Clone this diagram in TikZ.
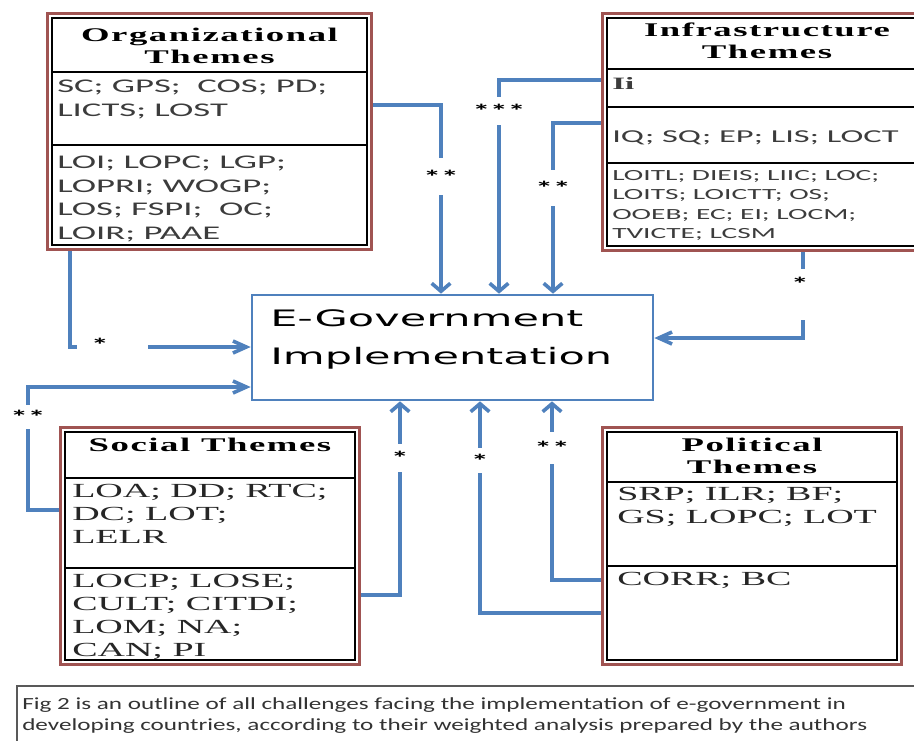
\documentclass[tikz,border=0pt]{standalone}
\usepackage{fontspec}
\usetikzlibrary{arrows.meta}

\newfontfamily\bodysans[FakeStretch=1.9]{Carlito}
\newfontfamily\bodyserif[FakeStretch=1.9]{Liberation Serif}
\newfontfamily\titleserif[FakeStretch=1.9,LetterSpace=8]{Liberation Serif}
\newfontfamily\egovfont[FakeStretch=1.9]{DejaVu Sans}
\newfontfamily\captionfont[FakeStretch=1.48]{Carlito}

\definecolor{linkblue}{RGB}{79,129,189}
\definecolor{framered}{RGB}{160,84,82}
\definecolor{bodygray}{RGB}{60,60,60}

\begin{document}
\begin{tikzpicture}[x=0.75pt, y=-0.75pt,
    themebox/.style={draw=black, line width=1.5pt, inner sep=0pt, outer sep=3.4pt},
    redframe/.style={draw=framered, line width=2.4pt},
    divider/.style={draw=black, line width=1.3pt},
    link/.style={draw=linkblue, line width=2.7pt},
    linkdown/.style={link, -{Straight Barb[length=6pt, width=14pt]}},
    linkside/.style={link, -{Straight Barb[length=10pt, width=9pt]}},
    heading/.style={font=\titleserif\bfseries\fontsize{14.5}{16.5}\selectfont, align=center, inner sep=0pt},
    sansitems/.style={font=\bodysans\fontsize{14.5}{17.6}\selectfont, text=bodygray, align=left, anchor=north west, inner sep=0pt},
    smallitems/.style={font=\bodysans\fontsize{11.6}{14.6}\selectfont, text=bodygray, align=left, anchor=north west, inner sep=0pt},
    serifitems/.style={font=\bodyserif\fontsize{15}{17.3}\selectfont, text=black!85, align=left, anchor=north west, inner sep=0pt},
    starlbl/.style={font=\bodysans\bfseries\fontsize{14}{14}\selectfont, fill=white, inner xsep=1pt, inner ysep=0pt, minimum height=#1},
    starlbl/.default=22pt
  ]
    \fill[white] (0,0) rectangle (914,740);
    \useasboundingbox (0,0) rectangle (914,740);
    \clip (0,0) rectangle (914,740);

    % ==========================================
    % Theme boxes and the central box
    % ==========================================
    \node[themebox, minimum width=236.25pt, minimum height=170.25pt] (org) at (209.5,131.5) {};
    \node[themebox, minimum width=233.25pt, minimum height=171pt] (infra) at (762.5,132) {};
    \node[themebox, minimum width=217.5pt, minimum height=171pt] (soc) at (210,546) {};
    \node[themebox, minimum width=217.5pt, minimum height=171pt] (pol) at (752,546) {};
    \node[draw=linkblue, line width=2pt, minimum width=300.75pt, minimum height=78.75pt] (egov) at (452.5,347.5) {};
    \node[font=\egovfont\fontsize{17}{28.5}\selectfont, align=left, anchor=north west, inner sep=0pt] (egovtext) at (270,309) {E-Government\\Implementation};

    % Section dividers
    \draw[divider] (52,72) -- (367,72);
    \draw[divider] (52,145) -- (367,145);
    \draw[divider] (607,69) -- (918,69);
    \draw[divider] (607,107) -- (918,107);
    \draw[divider] (607,163) -- (918,163);
    \draw[divider] (65,478) -- (355,478);
    \draw[divider] (65,568) -- (355,568);
    \draw[divider] (607,482) -- (897,482);
    \draw[divider] (607,566) -- (897,566);

    % Organizational Themes
    \node[heading] (orgtitle) at (209.5,46) {Organizational\\Themes};
    \node[sansitems] (orga) at (57,80) {SC; GPS;\ \ COS; PD;\\LICTS; LOST};
    \node[sansitems] (orgb) at (57,156) {LOI; LOPC; LGP;\\LOPRI; WOGP;\\LOS; FSPI;\ \ OC;\\LOIR; PAAE};

    % Infrastructure Themes
    \node[heading] (inftitle) at (767,41) {Infrastructure\\Themes};
    \node[font=\bodyserif\bfseries\fontsize{13}{15}\selectfont, text=bodygray, anchor=north west, inner sep=0pt] (infa) at (612,77) {Ii};
    \node[sansitems, font=\bodysans\fontsize{13.6}{16}\selectfont] (infb) at (612,130) {IQ; SQ; EP; LIS; LOCT};
    \node[smallitems] (infc) at (612,170) {LOITL;\ DIEIS; LIIC; LOC;\\LOITS; LOICTT; OS;\\OOEB; EC;\ EI; LOCM;\\TVICTE;\ LCSM};

    % Social Themes
    \node[heading] (soctitle) at (210,445) {Social Themes};
    \node[serifitems] (soca) at (72,484) {LOA; DD; RTC;\\DC; LOT;\\LELR};
    \node[serifitems] (socb) at (72,574) {LOCP; LOSE;\\CULT; CITDI;\\LOM; NA;\\CAN; PI};

    % Political Themes
    \node[heading] (poltitle) at (752,456) {Political\\Themes};
    \node[serifitems] (pola) at (617,487) {SRP; ILR; BF;\\GS; LOPC; LOT};
    \node[serifitems] (polb) at (617,572) {CORR; BC};

    % ==========================================
    % Weighted links into E-Government
    % ==========================================
    % from Organizational Themes
    \coordinate (orgbend) at (441,105);
    \draw[linkdown] (org.east |- orgbend) -- (orgbend) -- node[starlbl=28pt, pos=0.38] {**} (egov.north -| orgbend);
    \coordinate (orgcorner) at (70,347);
    \coordinate (orgstub) at (77,347);
    \coordinate (orgresume) at (148,347);
    \draw[link] (org.south -| orgcorner) -- (orgcorner) -- (orgstub);
    \node[starlbl] (orgstar) at (100,345) {*};
    \draw[linkside] (orgresume) -- (egov.west |- orgresume);

    % from Infrastructure Themes
    \coordinate (infbendi) at (499,80);
    \draw[linkdown] (infra.west |- infbendi) -- (infbendi) -- node[starlbl=21pt, pos=0.145] {***} (egov.north -| infbendi);
    \coordinate (infbendii) at (553,123);
    \draw[linkdown] (infra.west |- infbendii) -- (infbendii) -- node[starlbl=27pt, pos=0.38] {**} (egov.north -| infbendii);
    \coordinate (infdrop) at (803,272);
    \coordinate (infresume) at (803,320);
    \coordinate (infcorner) at (803,338);
    \draw[link] (infra.south -| infdrop) -- (infdrop);
    \node[starlbl] (infstar) at (800,284) {*};
    \draw[linkside] (infresume) -- (infcorner) -- (egov.east |- infcorner);

    % from Social Themes
    \coordinate (socbendi) at (28,510);
    \coordinate (socbendii) at (28,387);
    \draw[linkside] (soc.west |- socbendi) -- (socbendi) -- node[starlbl=18pt, pos=0.76] {**} (socbendii) -- (egov.west |- socbendii);
    \coordinate (socbendiii) at (400,595);
    \draw[linkdown] (soc.east |- socbendiii) -- (socbendiii) -- node[starlbl=21pt, pos=0.71] {*} (egov.south -| socbendiii);

    % from Political Themes
    \coordinate (polbendi) at (552,580);
    \draw[linkdown] (pol.west |- polbendi) -- (polbendi) -- node[starlbl=24pt, pos=0.74] {**} (egov.south -| polbendi);
    \coordinate (polbendii) at (480,613);
    \draw[linkdown] (pol.west |- polbendii) -- (polbendii) -- node[starlbl=19pt, pos=0.72] {*} (egov.south -| polbendii);

    % Red outer frames
    \foreach \b in {org, infra, soc, pol}
        \draw[redframe] (\b.north west) rectangle (\b.south east);

    % ==========================================
    % Caption
    % ==========================================
    \draw[black!65, line width=0.8pt] (17,745) |- (920,686);
    \node[font=\captionfont\fontsize{12.75}{15.75}\selectfont, text=black!80, align=left, anchor=north west, inner sep=0pt] (caption) at (22,697) {Fig 2 is an outline of all challenges facing the implementation of e-government in\\developing countries, according to their weighted analysis prepared by the authors};
\end{tikzpicture}
\end{document}
